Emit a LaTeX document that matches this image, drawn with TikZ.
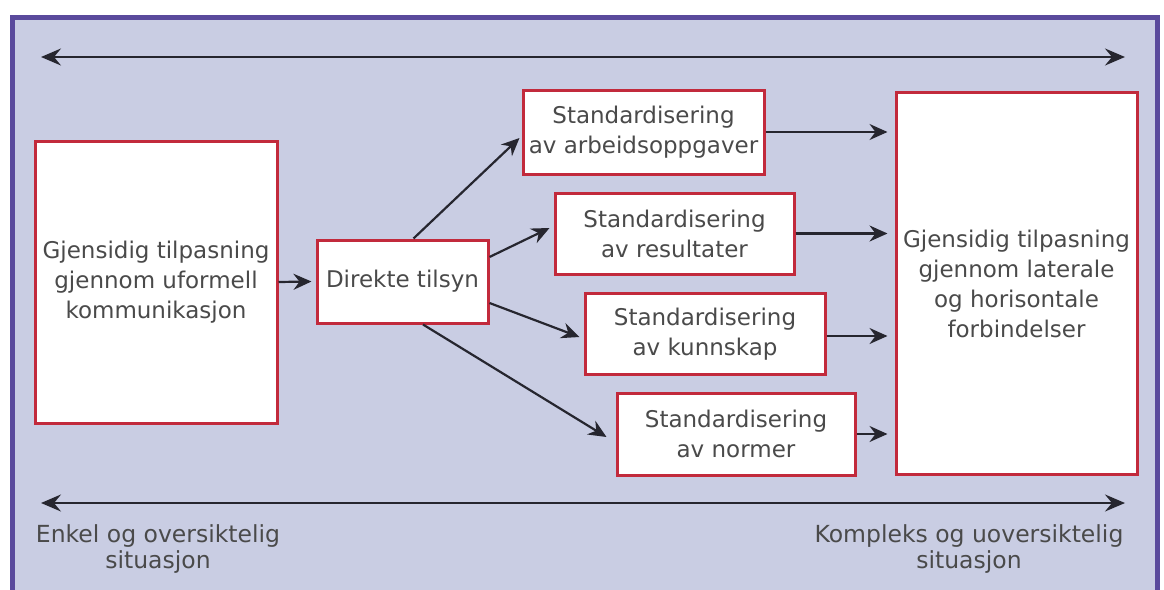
\documentclass[tikz,border=0pt]{standalone}
\usepackage{fontspec}
\setmainfont{DejaVu Sans}
\usetikzlibrary{arrows.meta,calc}
\definecolor{bgc}{HTML}{C9CDE3}
\definecolor{framec}{HTML}{5A4A9C}
\definecolor{boxred}{HTML}{C22A3C}
\definecolor{arrc}{HTML}{26262F}
\definecolor{txt}{HTML}{4A4A4A}
\begin{document}
\begin{tikzpicture}[x=1pt,y=-1pt,
  box/.style={draw=boxred, line width=3pt, fill=white, align=center, inner sep=0pt,
    text=txt, font=\fontsize{23}{30}\selectfont},
  arr/.style={draw=arrc, line width=2.2pt, -{Stealth[length=18pt,width=16pt,inset=6pt]}},
  arrboth/.style={draw=arrc, line width=2.2pt,
    {Stealth[length=20pt,width=17pt,inset=7pt]}-{Stealth[length=20pt,width=17pt,inset=7pt]}},
  lbl/.style={align=center, text=txt, inner sep=0pt, font=\fontsize{23.5}{25.5}\selectfont}]
\useasboundingbox (0,0) rectangle (1164,589);
\clip (0,0) rectangle (1164,589);
\fill[white] (0,0) rectangle (1164,589);
% frame
\fill[bgc] (12,17) rectangle (1157,600);
\draw[framec, line width=5pt] (12,600) -- (12,17) -- (1157,17) -- (1157,600);

% boxes
\node[box, minimum width=242pt, minimum height=282pt] (L) at (156,282)
  {Gjensidig tilpasning\\gjennom uformell\\kommunikasjon};
\node[box, minimum width=171pt, minimum height=83pt] (D) at (402.5,281.5) {Direkte tilsyn};
\node[box, minimum width=241pt, minimum height=84pt] (B1) at (643.5,132)
  {Standardisering\\av arbeidsoppgaver};
\node[box, minimum width=239pt, minimum height=81pt] (B2) at (674.5,233.5)
  {Standardisering\\av resultater};
\node[box, minimum width=240pt, minimum height=81pt] (B3) at (705,334)
  {Standardisering\\av kunnskap};
\node[box, minimum width=238pt, minimum height=82pt] (B4) at (736,434)
  {Standardisering\\av normer};
\node[box, minimum width=241pt, minimum height=382pt] (R) at (1016.5,283.5)
  {Gjensidig tilpasning\\gjennom laterale\\og horisontale\\forbindelser};

% connectors
\draw[arr] (L.east) -- ([xshift=-4pt]D.west);
\draw[arr] ([xshift=11pt]D.north) -- ([shift={(-2pt,-6pt)}]B1.west);
\draw[arr] ([yshift=24.5pt]D.east) -- ([shift={(-4pt,5.5pt)}]B2.west);
\draw[arr] ([yshift=-21.5pt]D.east) -- ([shift={(-4pt,-3pt)}]B3.west);
\draw[arr] ([xshift=20.5pt]D.south) -- ([shift={(-9pt,-3pt)}]B4.west);
\draw[arr, shorten >=7pt] (B1.east) -- (B1.east -| R.west);
\draw[arr, shorten >=7pt] (B2.east) -- (B2.east -| R.west);
\draw[arr, shorten >=7pt] ([yshift=-2pt]B3.east) -- ([yshift=-2pt]B3.east -| R.west);
\draw[arr, shorten >=7pt] (B4.east) -- (B4.east -| R.west);

% scale arrows
\coordinate (tl) at (41,57);
\coordinate (tr) at (1125,57);
\coordinate (bl) at (41,503);
\coordinate (br) at (1125,503);
\draw[arrboth] (tl) -- (tr);
\draw[arrboth] (bl) -- (br);

% labels
\node[lbl] (enkel) at (158,549) {Enkel og oversiktelig\\situasjon};
\node[lbl] (kompleks) at (969,549) {Kompleks og uoversiktelig\\situasjon};
\end{tikzpicture}
\end{document}
